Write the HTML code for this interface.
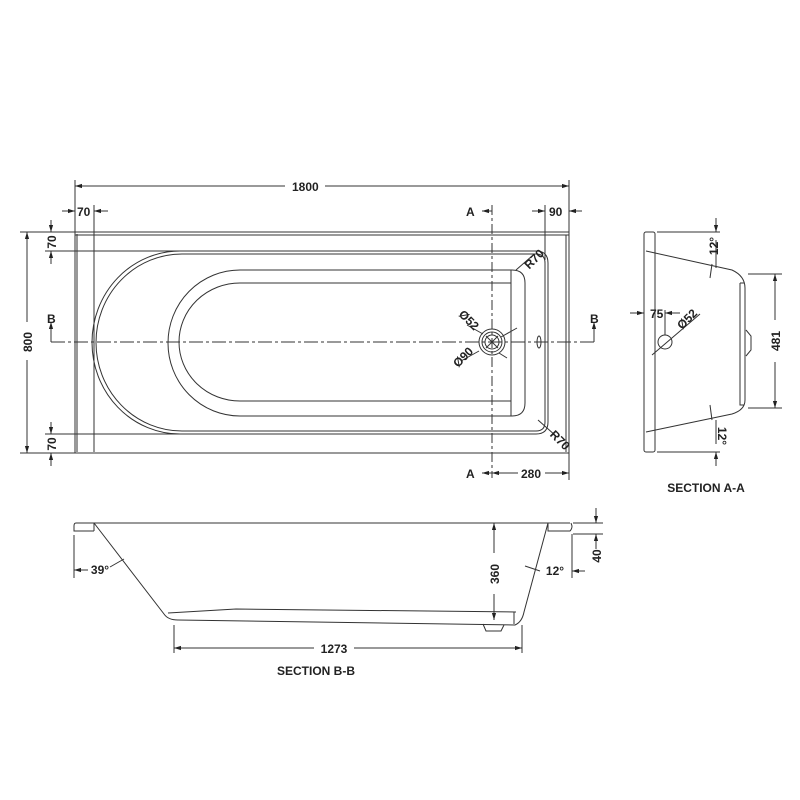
<!DOCTYPE html>
<html><head><meta charset="utf-8"><style>
html,body{margin:0;padding:0;background:#fff;width:800px;height:800px;overflow:hidden}
svg{display:block}
text{font-family:"Liberation Sans",sans-serif;font-weight:bold;font-size:12px;fill:#222}
</style></head><body>
<svg width="800" height="800" viewBox="0 0 800 800">
<defs>
<marker id="ar" viewBox="0 0 10 10" refX="10" refY="5" markerWidth="7" markerHeight="7" orient="auto-start-reverse"><path d="M0,2 L10,5 L0,8 z" fill="#222"/></marker>
</defs>
<g fill="none" stroke="#333" stroke-width="1">
<rect x="75" y="232" width="494" height="221"/>
<line x1="77" y1="234" x2="77" y2="452"/>
<line x1="75" y1="235" x2="569" y2="235"/>
<line x1="566" y1="235" x2="566" y2="452"/>
<path d="M180,251 L536,251 Q548,251 548,263 L548,422 Q548,434 536,434 L180,434 A88,91.5 0 0 1 180,251 Z"/>
<path d="M182,254 L536,254 Q545,254 545,263 L545,422 Q545,431 536,431 L182,431 A86,88.5 0 0 1 182,254 Z"/>
<path d="M240,270 L512,270 Q525,270 525,283 L525,403 Q525,416 512,416 L240,416 A72,73 0 0 1 240,270 Z"/>
<line x1="511" y1="270" x2="511" y2="416"/>
<path d="M240,283 L511,283 M511,401 L240,401 A61,59 0 0 1 240,283"/>
<circle cx="492" cy="342" r="13"/>
<circle cx="492" cy="342" r="10"/>
<circle cx="492" cy="342" r="7"/>
<line x1="486" y1="336" x2="498" y2="348"/><line x1="486" y1="348" x2="498" y2="336"/>
<ellipse cx="539" cy="342" rx="2" ry="6"/>
<path d="M51,342 L594,342" stroke-dasharray="14,3,3,3"/>
<path d="M492,205 L492,478" stroke-dasharray="10,3,3,3"/>
<path d="M51,342 V326 M594,342 V326"/>
<path d="M51,326 V322" marker-end="url(#ar)"/>
<path d="M594,326 V322" marker-end="url(#ar)"/>
<path d="M492,211 H482" marker-end="url(#ar)"/>
<path d="M492,473 H482" marker-end="url(#ar)"/>
<line x1="75" y1="180" x2="75" y2="232"/><line x1="569" y1="180" x2="569" y2="232"/>
<path d="M75,186 H285" marker-start="url(#ar)"/><path d="M325,186 H569" marker-end="url(#ar)"/>
<line x1="94" y1="205" x2="94" y2="452"/>
<path d="M62,211 H75" marker-end="url(#ar)"/><path d="M108,211 H94" marker-end="url(#ar)"/>
<line x1="545" y1="205" x2="545" y2="260"/>
<path d="M532,211 H545" marker-end="url(#ar)"/><path d="M582,211 H569" marker-end="url(#ar)"/>
<line x1="20" y1="232" x2="75" y2="232"/><line x1="20" y1="453" x2="75" y2="453"/>
<path d="M27,232 V322" marker-start="url(#ar)"/><path d="M27,360 V453" marker-end="url(#ar)"/>
<line x1="45" y1="251" x2="180" y2="251"/><line x1="45" y1="434" x2="180" y2="434"/>
<path d="M51,220 V232" marker-end="url(#ar)"/><path d="M51,264 V251" marker-end="url(#ar)"/>
<path d="M51,422 V434" marker-end="url(#ar)"/><path d="M51,466 V453" marker-end="url(#ar)"/>
<line x1="569" y1="453" x2="569" y2="480"/>
<path d="M492,473 H518" marker-start="url(#ar)"/><path d="M545,473 H569" marker-end="url(#ar)"/>
<line x1="516" y1="270" x2="532" y2="256"/>
<line x1="538" y1="420" x2="556" y2="436"/>
<path d="M467,325 L483,334"/><path d="M517,328 L501,337"/>
<path d="M461,361 L479,351"/><path d="M507,358 L499,353"/>
<rect x="644" y="232" width="11" height="220" rx="2"/>
<path d="M646,251 L732,270 Q745,276 745,288 L745,400 Q745,410 732,414 L646,432"/>
<path d="M740,283 L744,283 M740,283 L740,405 L744,405"/>
<path d="M746,330 L751,336 L751,350 L746,356"/>
<circle cx="665" cy="342" r="7"/>
<line x1="652" y1="355" x2="700" y2="314"/>
<line x1="665" y1="310" x2="665" y2="335"/>
<path d="M630,313 H644" marker-end="url(#ar)"/><path d="M680,313 H665" marker-end="url(#ar)"/>
<line x1="657" y1="232" x2="720" y2="232"/><line x1="657" y1="452" x2="720" y2="452"/>
<path d="M716,218 V232" marker-end="url(#ar)"/><path d="M716,240 V268"/>
<path d="M716,466 V452" marker-end="url(#ar)"/><path d="M716,444 V420"/>
<line x1="710" y1="278" x2="712" y2="264"/><line x1="710" y1="405" x2="712" y2="420"/>
<line x1="748" y1="274" x2="782" y2="274"/><line x1="748" y1="408" x2="782" y2="408"/>
<path d="M775,320 V274" marker-end="url(#ar)"/><path d="M775,362 V408" marker-end="url(#ar)"/>
<path d="M76,523 L570,523"/>
<path d="M76,523 Q74,523 74,526 L74,531 L94,531 M94,523 L94,531"/>
<path d="M94,523 L164,614 Q168,620 178,620 L515,625 Q522,622 524,612 L548,523"/>
<path d="M548,523 L548,531 L570,531 Q572,529 572,526 L571,523"/>
<path d="M168,613 L236,609 L516,612"/>
<line x1="514" y1="612" x2="514" y2="624"/>
<path d="M483,624 L486,631 L501,631 L504,625"/>
<line x1="174" y1="625" x2="174" y2="653"/><line x1="522" y1="625" x2="522" y2="653"/>
<path d="M174,648 H314" marker-start="url(#ar)"/><path d="M354,648 H522" marker-end="url(#ar)"/>
<path d="M494,553 V523" marker-end="url(#ar)"/><path d="M494,594 V620" marker-end="url(#ar)"/>
<line x1="74" y1="535" x2="74" y2="578"/><line x1="572" y1="534" x2="572" y2="578"/>
<line x1="573" y1="523" x2="603" y2="523"/><line x1="573" y1="534" x2="603" y2="534"/>
<path d="M596,508 V523" marker-end="url(#ar)"/><path d="M596,549 V534" marker-end="url(#ar)"/>
<path d="M74,570 H88" marker-start="url(#ar)"/>
<path d="M110,567 L124,559"/>
<path d="M585,571 H572" marker-end="url(#ar)"/>
<path d="M525,566 L540,571"/>
</g>
<text x="292" y="191">1800</text>
<text x="77" y="216">70</text>
<text x="549" y="216">90</text>
<text x="466" y="216">A</text>
<text x="466" y="478">A</text>
<text x="521" y="478">280</text>
<text x="47" y="323">B</text>
<text x="590" y="323">B</text>
<text transform="translate(32,342) rotate(-90)" text-anchor="middle">800</text>
<text transform="translate(56,242) rotate(-90)" text-anchor="middle">70</text>
<text transform="translate(56,444) rotate(-90)" text-anchor="middle">70</text>
<text transform="translate(537,262) rotate(-45)" text-anchor="middle">R70</text>
<text transform="translate(557,443) rotate(45)" text-anchor="middle">R70</text>
<text transform="translate(466,323) rotate(45)" text-anchor="middle">Ø52</text>
<text transform="translate(466,360) rotate(-45)" text-anchor="middle">Ø90</text>
<text x="650" y="318">75</text>
<text transform="translate(690,322) rotate(-45)" text-anchor="middle">Ø52</text>
<text transform="translate(718,246) rotate(-90)" text-anchor="middle">12°</text>
<text transform="translate(718,436) rotate(90)" text-anchor="middle">12°</text>
<text transform="translate(780,341) rotate(-90)" text-anchor="middle">481</text>
<text x="706" y="492" text-anchor="middle">SECTION A-A</text>
<text transform="translate(499,574) rotate(-90)" text-anchor="middle">360</text>
<text transform="translate(601,556) rotate(-90)" text-anchor="middle">40</text>
<text x="334" y="653" text-anchor="middle">1273</text>
<text x="100" y="574" text-anchor="middle">39°</text>
<text x="555" y="575" text-anchor="middle">12°</text>
<text x="316" y="675" text-anchor="middle">SECTION B-B</text>
</svg>
</body></html>
